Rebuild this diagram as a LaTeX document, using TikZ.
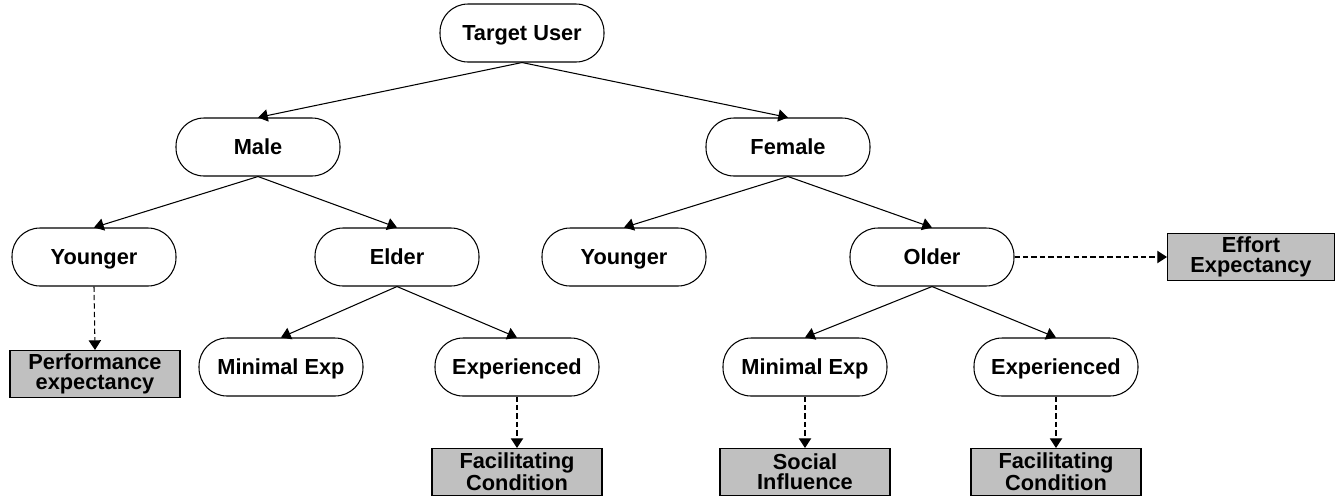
\documentclass[tikz,border=0pt]{standalone}
\usepackage{fontspec}
\setmainfont{Liberation Sans}
\usepackage{tikz}
\usetikzlibrary{arrows.meta, positioning, shapes, calc}
\definecolor{boxgray}{RGB}{192,192,192}

\begin{document}
\begin{tikzpicture}[x=0.02cm, y=-0.02cm,
    font=\bfseries\fontsize{12.4}{11.5}\selectfont,
    group/.style={draw, line width=0.6pt, rounded corners=0.56cm, minimum width=3.28cm, minimum height=1.16cm, text height=8.9pt, text depth=0pt},
    factor/.style={draw, line width=0.6pt, fill=boxgray, align=center, minimum width=3.4cm, minimum height=0.94cm, inner sep=1pt},
    branch/.style={line width=0.6pt, -{Triangle[length=5.5pt, width=7pt]}},
    effect/.style={branch, dash pattern=on 3pt off 1.8pt}]
    \useasboundingbox (0,0) rectangle (1340,495);
    % Nodes
    \node (user) at (522, 33) [group] {Target User};

    \node (male) at (258, 147) [group] {Male};
    \node (female) at (788, 147) [group] {Female};

    \node (myoung) at (94, 257) [group] {Younger};
    \node (elder) at (397, 257) [group] {Elder};
    \node (fyoung) at (624, 257) [group] {Younger};
    \node (older) at (932, 257) [group] {Older};

    \node (mminexp) at (281, 367) [group] {Minimal Exp};
    \node (mexp) at (517, 367) [group] {Experienced};
    \node (fminexp) at (805, 367) [group] {Minimal Exp};
    \node (fexp) at (1056, 367) [group] {Experienced};

    \node (perf) at (95, 374) [factor] {Performance\\expectancy};
    \node (effort) at (1251, 257) [factor, minimum width=3.34cm] {Effort\\Expectancy};
    \node (mfacil) at (517, 472) [factor] {Facilitating\\Condition};
    \node (social) at (805, 472) [factor] {Social\\Influence};
    \node (ffacil) at (1056, 472) [factor] {Facilitating\\Condition};

    % Edges
    \draw[branch] (user.south) -- (male.north);
    \draw[branch] (user.south) -- (female.north);

    \draw[branch] (male.south) -- (myoung.north);
    \draw[branch] (male.south) -- (elder.north);
    \draw[branch] (female.south) -- (fyoung.north);
    \draw[branch] (female.south) -- (older.north);

    \draw[branch] (elder.south) -- (mminexp.north);
    \draw[branch] (elder.south) -- (mexp.north);
    \draw[branch] (older.south) -- (fminexp.north);
    \draw[branch] (older.south) -- (fexp.north);

    \draw[effect] (myoung.south) -- (perf.north);
    \draw[effect] (older.east) -- (effort.west);
    \draw[effect] (mexp.south) -- (mfacil.north);
    \draw[effect] (fminexp.south) -- (social.north);
    \draw[effect] (fexp.south) -- (ffacil.north);
\end{tikzpicture}
\end{document}
